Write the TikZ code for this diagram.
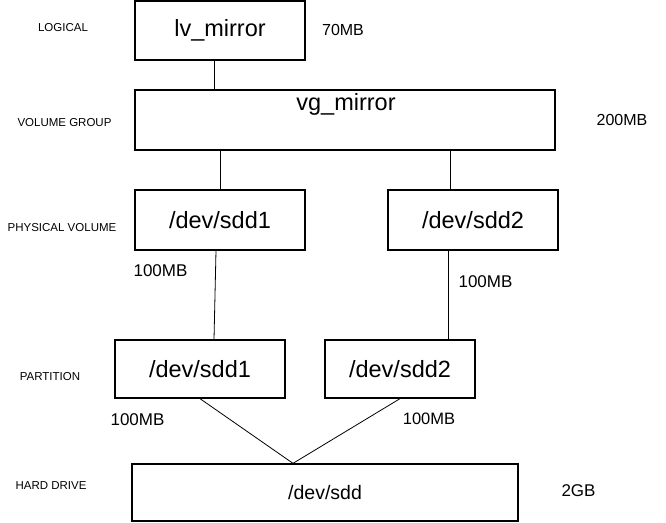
\documentclass[tikz,border=0pt]{standalone}
\usepackage{fontspec}
\setmainfont{Liberation Sans}
\begin{document}
\begin{tikzpicture}[x=1pt,y=-1pt]
        \useasboundingbox (0,0) rectangle (666,522);

        \begin{scope}[every node/.style={draw,line width=1.3pt,inner sep=0pt,minimum height=59pt,font=\fontsize{23.5}{26}\selectfont}]
          \node[minimum width=170pt] (lv)    at (220,30.5)  {lv\_mirror};
          \node[minimum width=420pt,minimum height=60pt] (vg) at (345,120) {};
          \node[minimum width=170pt,minimum height=60pt] (pv1) at (220,220) {/dev/sdd1};
          \node[minimum width=170pt,minimum height=60pt] (pv2) at (473,220) {/dev/sdd2};
          \node[minimum width=170pt,minimum height=58pt] (part1) at (200,369) {/dev/sdd1};
          \node[minimum width=150pt,minimum height=58pt] (part2) at (400,369) {/dev/sdd2};
          \node[minimum width=386pt,minimum height=57pt,font=\fontsize{19.5}{22}\selectfont] (hd) at (325,492.5) {/dev/sdd};
        \end{scope}

        \node[font=\fontsize{23.5}{26}\selectfont,inner sep=0pt] (vgtext) at (346,104) {vg\_mirror};

        \begin{scope}[every node/.style={inner sep=0pt,font=\fontsize{11.5}{13}\selectfont}]
          \node (logical)  at (63,28)   {LOGICAL};
          \node (volgroup) at (64.5,123) {VOLUME GROUP};
          \node (physvol)  at (62,228)  {PHYSICAL VOLUME};
          \node (partlbl)  at (50,377)  {PARTITION};
          \node (hdlbl)    at (51,486)  {HARD DRIVE};
        \end{scope}

        \begin{scope}[every node/.style={inner sep=0pt,font=\fontsize{17}{19}\selectfont}]
          \node[font=\fontsize{16}{18}\selectfont] (size1) at (343,30)  {70MB};
          \node[font=\fontsize{16}{18}\selectfont] (size2) at (622,120) {200MB};
          \node (size3) at (160.5,271) {100MB};
          \node (size4) at (485.5,282) {100MB};
          \node (size5) at (137.5,420) {100MB};
          \node[font=\fontsize{16.5}{18}\selectfont] (size6) at (429,419) {100MB};
          \node (size7) at (578.5,491) {2GB};
        \end{scope}

        \begin{scope}[every edge/.style={draw,line width=0.8pt}]
          \path ([xshift=-6pt]lv.south)   edge ([xshift=-6pt]lv.south |- vg.north);
          \path (pv1.north |- vg.south)   edge (pv1.north);
          \path ([xshift=-23pt]pv2.north |- vg.south) edge ([xshift=-23pt]pv2.north);
          \path ([xshift=-4pt]pv1.south)  edge ([xshift=14pt]part1.north);
          \path ([xshift=-25pt]pv2.south) edge ([xshift=48pt]part2.north);
          \path (part1.south) edge ([xshift=-32pt]hd.north);
          \path (part2.south) edge ([xshift=-32pt]hd.north);
        \end{scope}

      \end{tikzpicture}
\end{document}
